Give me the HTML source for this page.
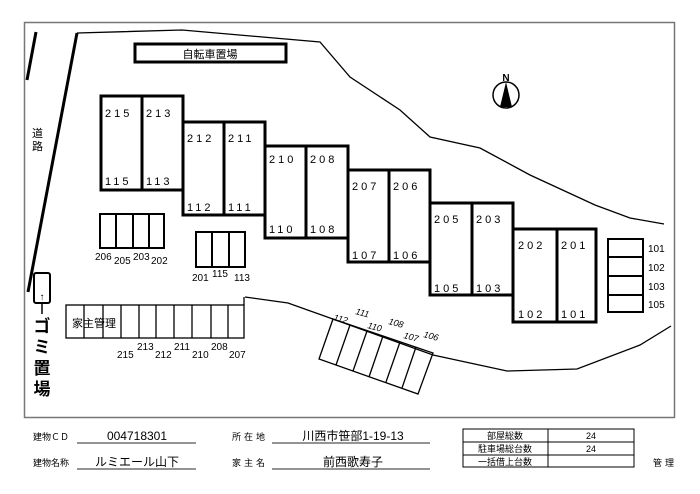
<!DOCTYPE html>
<html><head><meta charset="utf-8"><style>
html,body{margin:0;padding:0;background:#fff;}
svg{display:block;font-family:"Liberation Sans","Noto Sans CJK JP",sans-serif;}
</style></head><body>
<svg width="700" height="494" viewBox="0 0 700 494" xmlns="http://www.w3.org/2000/svg">
<rect x="24.5" y="22.5" width="650" height="395" fill="none" stroke="#777" stroke-width="1.5"/>
<line x1="36" y1="32" x2="27" y2="80" stroke="#000" stroke-width="3"/>
<line x1="77" y1="33" x2="28" y2="292" stroke="#000" stroke-width="3"/>
<text x="32" y="137" font-size="11">道</text>
<text x="32" y="150" font-size="11">路</text>
<polyline points="77,33 182,30 320,42 350,77 400,110 430,137 480,148 530,175 595,205 630,218 664,224" fill="none" stroke="#000" stroke-width="1.3"/>
<polyline points="245,297 288,303 330,318 433,355 507,371 577,369 640,345 671,326" fill="none" stroke="#000" stroke-width="1.3"/>
<rect x="135" y="44" width="151" height="18" fill="#fff" stroke="#000" stroke-width="3"/>
<text x="210" y="58" font-size="11" text-anchor="middle">自転車置場</text>
<circle cx="506" cy="95" r="13" fill="none" stroke="#000" stroke-width="1.5"/>
<polygon points="506,82 500,107 512,107" fill="#000"/>
<text x="506" y="81" font-size="10" font-weight="bold" text-anchor="middle">N</text>
<g fill="none" stroke="#000" stroke-width="3">
<rect x="101" y="96" width="82" height="94"/><line x1="142" y1="96" x2="142" y2="190"/>
<rect x="183" y="122" width="82" height="93"/><line x1="224" y1="122" x2="224" y2="215"/>
<rect x="265" y="146" width="83" height="92"/><line x1="306" y1="146" x2="306" y2="238"/>
<rect x="348" y="170" width="82" height="92"/><line x1="389" y1="170" x2="389" y2="262"/>
<rect x="430" y="203" width="83" height="92"/><line x1="472" y1="203" x2="472" y2="295"/>
<rect x="513" y="229" width="83" height="93"/><line x1="557" y1="229" x2="557" y2="322"/>
</g>
<g font-size="11" letter-spacing="3">
<text x="105" y="117">215</text><text x="146" y="117">213</text>
<text x="105" y="185">115</text><text x="146" y="185">113</text>
<text x="187" y="142">212</text><text x="228" y="142">211</text>
<text x="187" y="211">112</text><text x="228" y="211">111</text>
<text x="269" y="163">210</text><text x="310" y="163">208</text>
<text x="269" y="233">110</text><text x="310" y="233">108</text>
<text x="352" y="190">207</text><text x="393" y="190">206</text>
<text x="352" y="259">107</text><text x="393" y="259">106</text>
<text x="434" y="223">205</text><text x="476" y="223">203</text>
<text x="434" y="292">105</text><text x="476" y="292">103</text>
<text x="518" y="249">202</text><text x="561" y="249">201</text>
<text x="518" y="318">102</text><text x="561" y="318">101</text>
</g>
<g fill="none" stroke="#000" stroke-width="2">
<rect x="608" y="239" width="35" height="73"/>
<line x1="608" y1="257" x2="643" y2="257"/><line x1="608" y1="276" x2="643" y2="276"/><line x1="608" y1="295" x2="643" y2="295"/>
</g>
<g font-size="10"><text x="648" y="252">101</text><text x="648" y="271">102</text><text x="648" y="290">103</text><text x="648" y="308">105</text></g>
<g fill="none" stroke="#000" stroke-width="2">
<rect x="100" y="214" width="64" height="34"/>
<line x1="116" y1="214" x2="116" y2="248"/><line x1="133" y1="214" x2="133" y2="248"/><line x1="149" y1="214" x2="149" y2="248"/>
<rect x="196" y="232" width="49" height="35"/>
<line x1="212" y1="232" x2="212" y2="267"/><line x1="229" y1="232" x2="229" y2="267"/>
<rect x="34" y="273" width="16" height="30" rx="2"/>
</g>
<text x="42" y="300" font-size="10" text-anchor="middle">↑</text>
<g font-size="10">
<text x="95" y="260">206</text><text x="114" y="264">205</text><text x="133" y="260">203</text><text x="151" y="264">202</text>
<text x="192" y="281">201</text><text x="212" y="277">115</text><text x="234" y="281">113</text>
</g>
<g font-size="17" font-weight="bold" text-anchor="middle">
<text x="42" y="332">ゴ</text><text x="42" y="353">ミ</text><text x="42" y="374">置</text><text x="42" y="395">場</text>
</g>
<line x1="42" y1="303" x2="42" y2="314" stroke="#000" stroke-width="1.5"/>
<g fill="none" stroke="#000" stroke-width="1.3">
<rect x="66" y="305" width="178" height="33"/>
<line x1="84" y1="305" x2="84" y2="338"/><line x1="103" y1="305" x2="103" y2="338"/><line x1="121" y1="305" x2="121" y2="338"/>
<line x1="139" y1="305" x2="139" y2="338"/><line x1="156" y1="305" x2="156" y2="338"/><line x1="174" y1="305" x2="174" y2="338"/>
<line x1="192" y1="305" x2="192" y2="338"/><line x1="211" y1="305" x2="211" y2="338"/><line x1="228" y1="305" x2="228" y2="338"/>
<line x1="244" y1="305" x2="244" y2="297"/>
</g>
<text x="94" y="327" font-size="11" text-anchor="middle">家主管理</text>
<g font-size="10">
<text x="117" y="358">215</text><text x="137" y="350">213</text><text x="155" y="358">212</text><text x="174" y="350">211</text>
<text x="192" y="358">210</text><text x="211" y="350">208</text><text x="229" y="358">207</text>
</g>
<g fill="none" stroke="#000" stroke-width="1.3">
<polygon points="333,319 433,353 418,394 319,359"/>
<line x1="350" y1="325" x2="336" y2="365"/><line x1="367" y1="331" x2="353" y2="371"/>
<line x1="383" y1="336" x2="369" y2="377"/><line x1="400" y1="342" x2="386" y2="382"/><line x1="416" y1="347" x2="402" y2="388"/>
</g>
<g font-size="9" font-style="italic">
<text x="333" y="320" transform="rotate(15 333 320)">112</text>
<text x="355" y="314" transform="rotate(15 355 314)">111</text>
<text x="367" y="328" transform="rotate(15 367 328)">110</text>
<text x="388" y="324" transform="rotate(15 388 324)">108</text>
<text x="403" y="338" transform="rotate(15 403 338)">107</text>
<text x="423" y="337" transform="rotate(15 423 337)">106</text>
</g>
<g font-size="9">
<text x="33" y="440">建物ＣＤ</text><text x="33" y="466">建物名称</text>
<text x="232" y="440" letter-spacing="3">所在地</text><text x="232" y="466" letter-spacing="3">家主名</text>
<text x="653" y="466" letter-spacing="3">管理</text>
</g>
<g stroke="#555" stroke-width="1.3">
<line x1="77" y1="443" x2="196" y2="443"/><line x1="77" y1="469" x2="196" y2="469"/>
<line x1="272" y1="443" x2="430" y2="443"/><line x1="272" y1="469" x2="430" y2="469"/>
</g>
<g font-size="12" text-anchor="middle">
<text x="137" y="440">004718301</text><text x="137" y="466">ルミエール山下</text>
<text x="353" y="440">川西市笹部1-19-13</text><text x="353" y="466">前西歌寿子</text>
</g>
<g fill="none" stroke="#000" stroke-width="1">
<rect x="463" y="429" width="171" height="38"/>
<line x1="463" y1="442" x2="634" y2="442"/><line x1="463" y1="455" x2="634" y2="455"/>
<line x1="548" y1="429" x2="548" y2="467"/>
</g>
<g font-size="9" text-anchor="middle">
<text x="505" y="439">部屋総数</text><text x="505" y="452">駐車場総台数</text><text x="505" y="465">一括借上台数</text>
<text x="591" y="439">24</text><text x="591" y="452">24</text>
</g>
</svg>
</body></html>
